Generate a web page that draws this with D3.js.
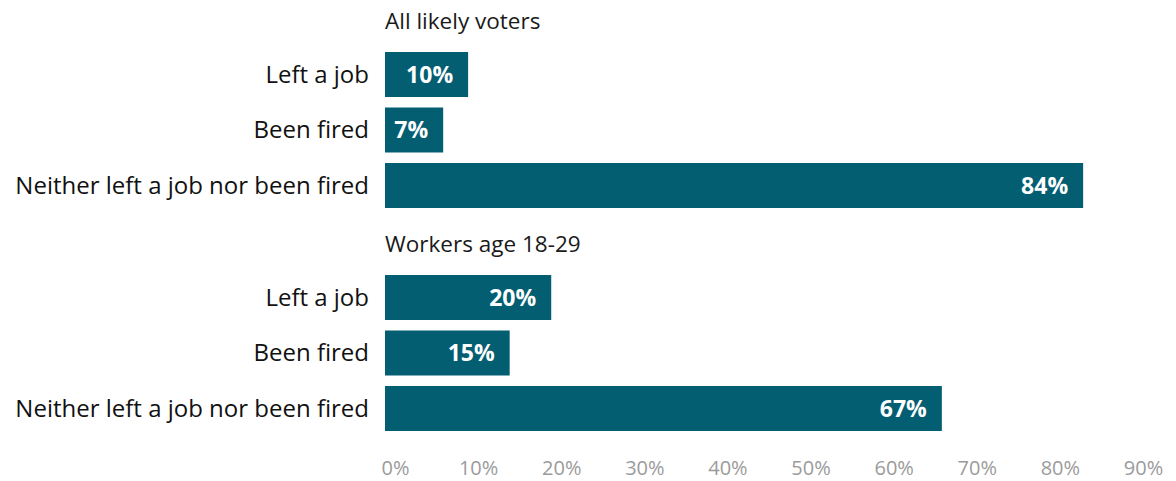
<!DOCTYPE html>
<html>
<head>
<meta charset="utf-8">
<script src="https://cdn.jsdelivr.net/npm/d3@7"></script>
<style>
  html, body { margin: 0; padding: 0; background: #ffffff; }
  svg { display: block; font-family: "Open Sans", "Lato", sans-serif; }
</style>
</head>
<body>
<svg id="chart" width="1176" height="481"></svg>
<script>
// Survey groups and the share answering each option
const groups = ["All likely voters", "Workers age 18-29"];
const categories = ["Left a job", "Been fired", "Neither left a job nor been fired"];
const allVoters = [10, 7, 84];
const youngWorkers = [20, 15, 67];
const tickValues = [0, 10, 20, 30, 40, 50, 60, 70, 80, 90];

const seriesByGroup = [allVoters, youngWorkers];

const svg = d3.select("#chart");
const barColor = "#035e72";

const x = d3.scaleLinear().domain([0, 90]).range([385, 1133]);

// Each group occupies a title row plus one row per category
const groupTop = [10, 233];
const rowStep = 55.5;
const barHeight = 45;
const gap = rowStep - barHeight;

groups.forEach((g, gi) => {
  const top = groupTop[gi];
  const y0 = top + 42;
  const y = d3.scaleBand()
    .domain(categories)
    .range([y0, y0 + rowStep * categories.length - gap])
    .paddingInner(gap / rowStep)
    .paddingOuter(0);

  const layer = svg.append("g");

  layer.append("text")
    .attr("x", x(0))
    .attr("y", top + 19)
    .attr("font-size", 22.5)
    .attr("fill", "#1a1a1a")
    .text(g);

  const data = categories.map((c, i) => ({ cat: c, value: seriesByGroup[gi][i] }));

  layer.selectAll("rect")
    .data(data)
    .join("rect")
    .attr("x", x(0))
    .attr("y", d => y(d.cat))
    .attr("width", d => x(d.value) - x(0))
    .attr("height", y.bandwidth())
    .attr("fill", barColor);

  layer.selectAll("text.cat")
    .data(data)
    .join("text")
    .attr("class", "cat")
    .attr("x", x(0) - 16)
    .attr("y", d => y(d.cat) + y.bandwidth() / 2)
    .attr("dy", "0.35em")
    .attr("text-anchor", "end")
    .attr("font-size", 24)
    .attr("fill", "#111")
    .text(d => d.cat);

  layer.selectAll("text.val")
    .data(data)
    .join("text")
    .attr("class", "val")
    .attr("x", d => x(d.value) - 15)
    .attr("y", d => y(d.cat) + y.bandwidth() / 2)
    .attr("dy", "0.36em")
    .attr("text-anchor", "end")
    .attr("font-size", 23)
    .attr("font-weight", 700)
    .attr("fill", "#ffffff")
    .text(d => d.value + "%");
});

// Bottom axis: labels only, no domain line or tick marks
const axis = d3.axisBottom(x)
  .tickValues(tickValues)
  .tickFormat(d => d + "%")
  .tickSize(0)
  .tickPadding(0);

const axisG = svg.append("g")
  .attr("transform", "translate(10, 461)")
  .call(axis);
axisG.select(".domain").remove();
axisG.selectAll("text")
  .attr("font-size", 20)
  .attr("font-family", "'Open Sans', Lato, sans-serif")
  .attr("fill", "#9b9b9b");
</script>
</body>
</html>
